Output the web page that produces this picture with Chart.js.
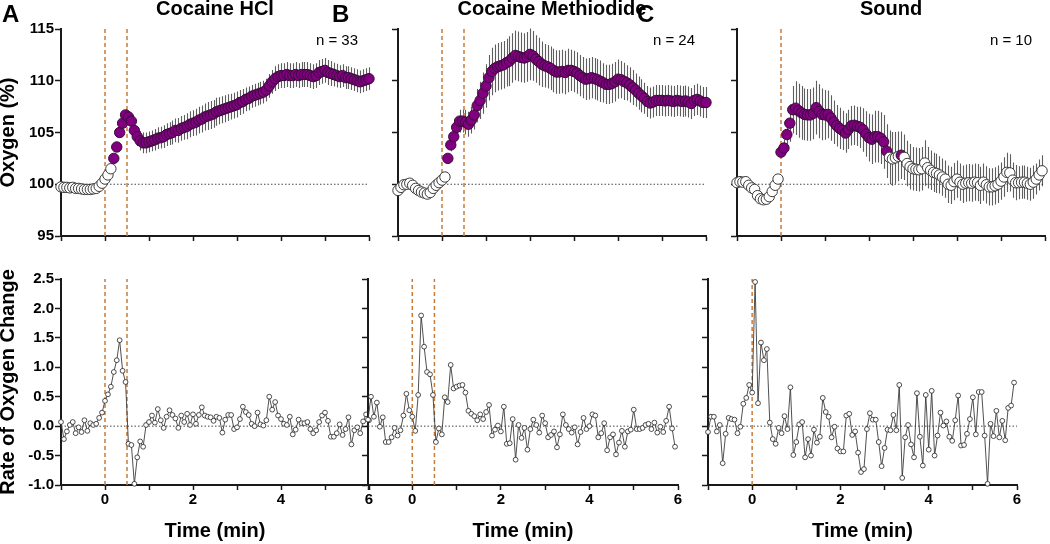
<!DOCTYPE html>
<html><head><meta charset="utf-8">
<script src="https://cdn.jsdelivr.net/npm/chart.js@4.4.1/dist/chart.umd.min.js"></script>
<style>
html,body{margin:0;padding:0;background:#fff;}
#wrap{position:relative;width:1050px;height:544px;overflow:hidden;background:#fff;font-family:"Liberation Sans",Arial,Helvetica,sans-serif;}
canvas{position:absolute;}
.t{position:absolute;white-space:nowrap;color:#000;}
.title{font-weight:bold;font-size:20px;line-height:20px;top:-2px;transform:translateX(-50%);}
.letter{font-weight:bold;font-size:24px;line-height:24px;top:2px;}
.n{font-size:15px;line-height:15px;top:32px;transform:translateX(-100%);}
</style></head><body>
<div id="wrap">
  <canvas id="cTA"></canvas><canvas id="cTB"></canvas><canvas id="cTC"></canvas>
  <canvas id="cBA"></canvas><canvas id="cBB"></canvas><canvas id="cBC"></canvas>
  <div class="t title" style="left:215px">Cocaine HCl</div>
  <div class="t title" style="left:552px">Cocaine Methiodide</div>
  <div class="t title" style="left:891px">Sound</div>
  <div class="t letter" style="left:2px">A</div>
  <div class="t letter" style="left:332px">B</div>
  <div class="t letter" style="left:637px">C</div>
  <div class="t n" style="left:358px">n = 33</div>
  <div class="t n" style="left:695px">n = 24</div>
  <div class="t n" style="left:1032px">n = 10</div>
</div>
<script>
// ---- sample times (min), one sample every 4 s ----
const time = [
-1.000,-0.933,-0.867,-0.800,-0.733,-0.667,-0.600,-0.533,-0.467,-0.400,-0.333,-0.267,-0.200,-0.133,-0.067,
0.000,0.067,0.133,0.200,0.267,0.333,0.400,0.467,0.533,0.600,0.667,0.733,0.800,0.867,0.933,
1.000,1.067,1.133,1.200,1.267,1.333,1.400,1.467,1.533,1.600,1.667,1.733,1.800,1.867,1.933,
2.000,2.067,2.133,2.200,2.267,2.333,2.400,2.467,2.533,2.600,2.667,2.733,2.800,2.867,2.933,
3.000,3.067,3.133,3.200,3.267,3.333,3.400,3.467,3.533,3.600,3.667,3.733,3.800,3.867,3.933,
4.000,4.067,4.133,4.200,4.267,4.333,4.400,4.467,4.533,4.600,4.667,4.733,4.800,4.867,4.933,
5.000,5.067,5.133,5.200,5.267,5.333,5.400,5.467,5.533,5.600,5.667,5.733,5.800,5.867,5.933,
6.000];

// ---- Oxygen (%) means ----
const oxyHCl = [
99.75,99.7,99.7,99.65,99.7,99.6,99.6,99.55,99.5,99.5,99.5,99.55,99.6,99.8,100.1,100.5,100.9,101.5,
102.5,103.6,105.0,105.9,106.7,106.5,106.1,105.2,104.6,104.2,104.0,
104.0,104.1,104.2,104.3,104.45,104.5,104.6,104.8,104.9,105.0,105.2,105.2,105.4,105.5,105.6,105.8,105.9,
106.0,106.2,106.3,106.5,106.6,106.7,106.8,107.0,107.1,107.2,107.3,107.4,107.5,107.6,107.7,
107.9,108.0,108.2,108.3,108.5,108.6,108.7,108.8,108.9,109.1,109.5,109.9,110.2,110.4,110.5,
110.5,110.6,110.5,110.5,110.6,110.5,110.6,110.6,110.6,110.5,110.4,110.5,110.8,110.9,111.0,
110.8,110.7,110.6,110.5,110.4,110.5,110.3,110.3,110.2,110.1,110.0,109.9,110.0,110.1,110.2];
const oxyMeth = [
99.4,99.7,99.95,100.0,100.1,99.9,99.6,99.4,99.25,99.15,99.05,99.2,99.6,99.9,100.15,100.4,100.7,
102.5,103.8,104.6,105.5,106.1,106.1,106.0,105.8,106.2,106.7,
107.6,108.1,108.8,109.5,110.3,110.9,111.2,111.35,111.45,111.55,111.75,111.9,112.2,112.45,
112.35,112.25,112.2,112.3,112.55,112.4,112.1,111.85,111.6,111.45,111.35,111.2,111.0,110.85,110.85,
110.9,110.8,111.0,111.0,110.9,110.75,110.5,110.3,110.15,110.2,110.3,110.2,110.1,109.95,109.8,
109.65,109.65,109.75,109.9,110.15,110.1,109.95,109.8,109.6,109.35,109.1,108.8,108.55,108.3,108.0,
107.85,107.95,108.1,108.1,108.1,108.05,108.1,108.05,108.0,108.1,108.05,108.0,108.05,107.95,107.8,108.1,108.2,108.05,107.9,107.9];
const oxySound = [
100.15,100.25,100.2,100.25,99.9,99.65,99.5,98.9,98.6,98.5,98.55,98.8,99.3,99.9,100.5,
103.1,103.5,104.8,105.9,107.2,107.35,107.1,106.9,106.75,106.7,106.7,106.85,107.4,107.05,106.75,
106.7,106.75,106.4,106.0,105.65,105.4,105.2,104.95,105.3,105.65,105.7,105.6,105.5,105.25,104.85,
104.5,104.35,104.6,104.6,104.45,104.1,103.2,102.6,102.45,102.55,102.7,102.8,102.6,102.0,101.7,
101.5,101.45,101.4,101.5,102.05,101.6,101.35,101.15,101.05,100.9,100.7,100.5,100.0,99.9,100.25,
100.5,100.2,100.0,100.1,100.15,100.1,100.2,100.15,99.9,100.2,99.95,99.75,99.75,99.85,100.0,
100.3,100.7,101.15,101.1,100.4,100.15,100.15,100.2,100.2,100.1,100.0,100.2,100.5,100.9,101.3];

// ---- Oxygen (%) SEM ----
const semHCl = [
0.2,0.2,0.2,0.2,0.2,0.2,0.2,0.2,0.2,0.2,0.2,0.2,0.2,0.2,0.2,0.2,0.2,0.2,
0.3,0.35,0.4,0.45,0.5,0.6,0.7,0.8,0.9,0.95,1.0,
1.0,1.0,1.0,1.05,1.05,1.05,1.1,1.1,1.1,1.15,1.15,1.2,1.2,1.2,1.25,1.25,1.25,
1.3,1.3,1.3,1.3,1.35,1.35,1.35,1.35,1.3,1.3,1.3,1.3,1.25,1.25,1.25,
1.2,1.2,1.15,1.15,1.1,1.1,1.1,1.1,1.1,1.1,1.15,1.15,1.2,1.2,1.2,
1.2,1.2,1.2,1.2,1.2,1.2,1.2,1.2,1.2,1.2,1.2,1.2,1.2,1.2,1.2,
1.2,1.2,1.15,1.15,1.1,1.1,1.1,1.1,1.1,1.1,1.1,1.1,1.1,1.1,1.1];
const semMeth = [
0.3,0.3,0.3,0.3,0.3,0.3,0.3,0.3,0.3,0.3,0.3,0.3,0.3,0.3,0.3,0.3,0.3,
0.4,0.6,0.8,1.0,1.1,1.1,1.2,1.2,1.3,1.4,
1.6,1.8,2.0,2.1,2.2,2.3,2.3,2.3,2.3,2.3,2.3,2.4,2.4,2.4,
2.4,2.4,2.4,2.4,2.5,2.4,2.3,2.3,2.2,2.1,2.1,2.1,2.1,2.1,2.1,
2.1,2.1,2.1,2.0,2.0,2.0,2.0,2.0,2.0,2.0,2.0,2.0,2.0,2.0,1.9,
1.9,1.9,1.9,1.9,1.9,1.8,1.8,1.7,1.7,1.7,1.6,1.6,1.6,1.5,1.5,
1.5,1.5,1.5,1.5,1.5,1.5,1.5,1.5,1.5,1.5,1.5,1.5,1.5,1.5,1.5,1.5,1.5,1.5,1.5,1.5];
const semSound = [
0.3,0.3,0.3,0.3,0.3,0.3,0.3,0.3,0.3,0.3,0.3,0.3,0.3,0.3,0.3,
0.5,0.8,1.2,1.8,2.3,2.6,2.6,2.6,2.5,2.5,2.5,2.5,2.6,2.6,2.5,
2.4,2.3,2.2,2.1,2.0,2.0,1.9,1.9,1.9,1.9,1.9,1.9,2.0,2.1,2.2,
2.3,2.4,2.5,2.5,2.5,2.6,2.6,2.6,2.6,2.5,2.4,2.3,2.2,2.2,2.2,
2.1,2.1,2.1,2.1,2.2,2.0,1.9,1.9,1.9,1.8,1.8,1.8,1.8,1.8,1.8,
1.8,1.8,1.8,1.8,1.8,1.8,1.8,1.8,1.8,1.8,1.8,1.8,1.8,1.8,1.8,
1.8,1.9,1.9,1.8,1.7,1.7,1.6,1.6,1.6,1.6,1.6,1.6,1.5,1.5,1.5];

// ---- index ranges drawn as significant (filled purple) ----
const sigHCl = [[18,105]];
const sigMeth = [[17,105]];
const sigSound = [[15,51],[56,56]];

// ---- Rate of oxygen change ----
const rateHCl = [
0.07,-0.22,-0.09,0.02,0.07,-0.12,-0.02,-0.10,0.10,-0.08,0.05,0.02,0.04,0.14,0.23,0.43,
0.54,0.67,0.92,1.12,1.46,0.94,0.75,-0.30,-0.32,-0.98,-0.53,-0.26,-0.35,0.02,
0.07,0.18,0.06,0.29,0.10,-0.03,0.16,0.27,0.19,0.13,-0.03,0.18,0.07,0.21,0.02,0.20,0.04,0.19,0.32,0.18,0.16,0.15,
0.09,0.16,0.14,-0.11,0.11,0.19,0.19,-0.05,-0.02,0.12,0.33,0.24,0.19,0.04,0.00,0.23,0.03,0.01,0.10,0.50,
0.28,0.41,0.18,0.12,0.04,0.02,0.16,-0.14,-0.06,0.11,0.05,0.05,0.07,-0.05,-0.12,-0.07,0.07,0.18,0.23,0.09,
-0.18,-0.18,-0.12,0.03,-0.15,-0.05,0.15,-0.31,-0.07,-0.02,-0.12,0.08,0.20,0.10];
const rateMeth = [
0.11,0.50,0.16,0.40,-0.01,0.15,-0.27,-0.27,-0.19,-0.03,
-0.16,-0.07,0.18,0.55,0.27,0.16,-0.08,0.53,1.88,1.35,
0.92,0.88,0.53,-0.27,-0.04,-0.14,0.49,0.41,1.04,0.64,
0.67,0.69,0.70,0.57,0.26,0.21,0.17,0.10,0.20,0.12,
0.24,0.36,-0.16,-0.06,0.01,-0.09,0.33,-0.30,-0.29,0.12,
-0.57,0.02,-0.20,-0.03,
-0.40,-0.05,0.11,0.02,-0.11,0.18,0.05,-0.19,-0.15,-0.09,
-0.36,-0.14,0.20,0.02,-0.05,-0.11,-0.02,-0.31,-0.10,0.14,
-0.05,0.00,0.20,0.18,-0.19,-0.12,0.05,-0.41,-0.19,-0.14,
-0.48,-0.28,-0.08,-0.35,-0.09,-0.06,0.28,-0.05,-0.05,-0.03,
0.02,0.04,-0.05,0.06,-0.11,-0.01,-0.10,0.09,0.33,-0.04,-0.35];
const rateSound = [
-0.10,0.16,0.16,-0.09,0.02,-0.63,-0.13,0.14,0.12,0.11,
-0.12,-0.01,0.38,0.48,0.70,0.57,2.45,0.39,1.42,1.12,
1.31,0.06,-0.22,-0.30,-0.03,-0.12,0.17,-0.05,0.66,-0.49,
-0.27,0.03,0.07,-0.53,-0.22,-0.50,-0.06,-0.28,-0.18,0.48,
0.24,0.16,-0.19,-0.01,-0.38,-0.43,-0.43,0.18,0.21,-0.15,
-0.09,-0.45,-0.78,-0.73,
-0.05,0.22,0.11,0.11,-0.27,-0.68,-0.37,-0.06,-0.07,0.19,
-0.07,0.70,-0.88,-0.19,0.02,-0.31,-0.53,0.56,-0.18,-0.67,
0.53,-0.40,0.60,-0.50,-0.16,0.23,0.01,0.08,-0.18,-0.25,
0.10,0.52,-0.33,-0.32,-0.13,0.12,0.49,-0.14,0.58,0.58,
-0.16,-0.98,0.04,-0.17,0.26,-0.19,0.09,-0.24,0.31,0.35,0.74];

// ---- event markers (min) and axis settings ----
const eventsHCl = [0, 0.5];
const eventsMeth = [0, 0.5];
const eventsSound = [0];
const oxyRange = [95, 115];
const rateRange = [-1.0, 2.5];
const oxyBaseline = 100;
const rateBaseline = 0;

const FONT = '"Liberation Sans", Arial, Helvetica, sans-serif';
const PURPLE = '#800080', PURPLE_EDGE = '#3a0a3a', ORANGE = '#c97b38', AXIS = '#1a1a1a';

const errorBars = {
  id: 'errorBars',
  beforeDatasetsDraw(chart, args, opts) {
    if (!opts || !opts.err) return;
    const xs = chart.scales.x, ys = chart.scales.y, ctx = chart.ctx;
    const means = chart.data.datasets[0].data, labels = chart.data.labels;
    ctx.save();
    ctx.strokeStyle = '#5e5e5e'; ctx.lineWidth = 1.1;
    ctx.beginPath();
    opts.err.forEach((e, i) => {
      if (i >= means.length) return;
      const x = Math.round(xs.getPixelForValue(labels[i])) + 0.5;
      ctx.moveTo(x, ys.getPixelForValue(means[i] - e));
      ctx.lineTo(x, ys.getPixelForValue(means[i] + e));
    });
    ctx.stroke(); ctx.restore();
  }
};
Chart.register(errorBars);

function inSig(i, sig) { return sig.some(r => i >= r[0] && i <= r[1]); }

function refSets(events, range, base) {
  const s = [{
    data: [{x: -1, y: base}, {x: 6, y: base}], borderColor: '#444', borderWidth: 1,
    borderDash: [1.5, 2], pointRadius: 0, order: 6, clip: false
  }];
  events.forEach(v => s.push({
    data: [{x: v, y: range[0]}, {x: v, y: range[1]}], borderColor: ORANGE, borderWidth: 1.5,
    borderDash: [4, 3], pointRadius: 0, order: 5, clip: false
  }));
  return s;
}

function topSets(vals, sig, events) {
  return [{
    data: vals, showLine: false, pointRadius: 5.2, pointBorderWidth: 1,
    pointBackgroundColor: c => inSig(c.dataIndex, sig) ? PURPLE : '#ffffff',
    pointBorderColor: c => inSig(c.dataIndex, sig) ? PURPLE_EDGE : '#3a3a3a',
    order: 0, clip: false
  }].concat(refSets(events, oxyRange, oxyBaseline));
}

function rateSets(vals, events) {
  return [{
    data: vals, showLine: true, borderColor: '#3c3c3c', borderWidth: 0.9, tension: 0,
    pointRadius: 2.4, pointBorderWidth: 0.8, pointBackgroundColor: '#ffffff', pointBorderColor: '#222222',
    order: 0, clip: false
  }].concat(refSets(events, rateRange, rateBaseline));
}

function makeChart(id, c) {
  const cv = document.getElementById(id);
  const w = c.box.r - c.box.l + c.m.L + c.m.R, h = c.box.b - c.box.t + c.m.T + c.m.B;
  cv.width = w; cv.height = h;
  cv.style.left = (c.box.l - c.m.L) + 'px'; cv.style.top = (c.box.t - c.m.T) + 'px';
  cv.style.width = w + 'px'; cv.style.height = h + 'px';
  const tickFont = {family: FONT, size: 15, weight: 'bold'};
  return new Chart(cv, {
    type: 'line',
    data: {labels: time, datasets: c.datasets},
    options: {
      responsive: false, animation: false, devicePixelRatio: 1, events: [],
      layout: {autoPadding: false, padding: {left: 0, top: c.m.T, right: c.m.R, bottom: 0}},
      plugins: {legend: {display: false}, tooltip: {enabled: false}, errorBars: {err: c.err || null}},
      scales: {
        x: {
          type: 'linear', min: -1, max: 6,
          afterFit: s => { s.height = c.m.B; },
          ticks: {stepSize: 1, autoSkip: false, maxRotation: 0, padding: 1, color: '#000', font: tickFont,
                  callback: v => (c.xLabels && v >= 0 && v % 2 === 0) ? String(v) : ''},
          grid: {drawOnChartArea: false, drawTicks: true, tickLength: 5, tickColor: AXIS, tickWidth: 1.5},
          border: {display: true, color: AXIS, width: 2},
          title: c.xTitle ? {display: true, text: c.xTitle, color: '#000',
                 font: {family: FONT, size: 20, weight: 'bold', lineHeight: 1.2}, padding: {top: 0, bottom: 1}}
                 : {display: false}
        },
        y: {
          min: c.yRange[0], max: c.yRange[1],
          afterFit: s => { s.width = c.m.L; },
          ticks: {stepSize: c.yStep, padding: 1, color: '#000', font: tickFont,
                  callback: v => c.yLabels ? (c.yStep < 1 ? Number(v).toFixed(1) : String(v)) : ''},
          grid: {drawOnChartArea: false, drawTicks: true, tickLength: 6, tickColor: AXIS, tickWidth: 1.5},
          border: {display: true, color: AXIS, width: 2},
          title: c.yTitle ? {display: true, text: c.yTitle, color: '#000',
                 font: {family: FONT, size: 20, weight: 'bold', lineHeight: 0.8}, padding: {top: 0, bottom: 0}}
                 : {display: false}
        }
      }
    }
  });
}

const topY = {t: 29, b: 236}, botY = {t: 279, b: 485};

makeChart('cTA', {box: {l: 61, r: 369, ...topY}, m: {L: 61, R: 10, T: 12, B: 10},
  datasets: topSets(oxyHCl, sigHCl, eventsHCl), err: semHCl,
  yRange: oxyRange, yStep: 5, yLabels: true, yTitle: 'Oxygen (%)', xLabels: false});
makeChart('cTB', {box: {l: 398, r: 706, ...topY}, m: {L: 12, R: 10, T: 12, B: 10},
  datasets: topSets(oxyMeth, sigMeth, eventsMeth), err: semMeth,
  yRange: oxyRange, yStep: 5, yLabels: false, xLabels: false});
makeChart('cTC', {box: {l: 737, r: 1045, ...topY}, m: {L: 12, R: 5, T: 12, B: 10},
  datasets: topSets(oxySound, sigSound, eventsSound), err: semSound,
  yRange: oxyRange, yStep: 5, yLabels: false, xLabels: false});

makeChart('cBA', {box: {l: 61, r: 369, ...botY}, m: {L: 61, R: 10, T: 12, B: 59},
  datasets: rateSets(rateHCl, eventsHCl),
  yRange: rateRange, yStep: 0.5, yLabels: true, yTitle: 'Rate of Oxygen Change', xLabels: true, xTitle: 'Time (min)'});
makeChart('cBB', {box: {l: 368, r: 678, ...botY}, m: {L: 12, R: 10, T: 12, B: 59},
  datasets: rateSets(rateMeth, eventsMeth),
  yRange: rateRange, yStep: 0.5, yLabels: false, xLabels: true, xTitle: 'Time (min)'});
makeChart('cBC', {box: {l: 708, r: 1017, ...botY}, m: {L: 12, R: 12, T: 12, B: 59},
  datasets: rateSets(rateSound, eventsSound),
  yRange: rateRange, yStep: 0.5, yLabels: false, xLabels: true, xTitle: 'Time (min)'});
</script>
</body></html>
